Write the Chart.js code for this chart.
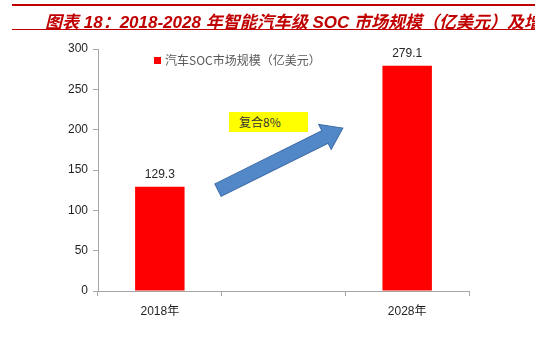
<!DOCTYPE html>
<html>
<head>
<meta charset="utf-8">
<script src="https://cdn.jsdelivr.net/npm/chart.js@4/dist/chart.umd.min.js"></script>
<style>
  body { margin: 0; background: #fff; }
  #wrap { position: relative; width: 535px; height: 358px; overflow: hidden; font-family: 'Liberation Sans', 'Noto Sans CJK SC', sans-serif; }
  #title { position: absolute; left: 12px; top: 4px; width: 523px; height: 23px; border-top: 2px solid #c00000; border-bottom: 1.5px solid #c00000; white-space: nowrap; overflow: hidden; }
  #title span { position: absolute; left: 33px; top: 2px; color: #c00000; font: italic bold 17px 'Liberation Sans', 'Noto Sans CJK SC', sans-serif; }
  #legend { position: absolute; left: 154px; top: 51px; font-size: 12px; color: #595959; font-family: 'Noto Sans CJK SC', sans-serif; }
  #legend i { display: inline-block; width: 7px; height: 7px; background: #ff0000; margin-right: 4px; vertical-align: 1px; }
  #cagr { position: absolute; left: 229px; top: 112px; width: 79px; height: 20px; background: #ffff00; font-size: 12px; color: #333; line-height: 20px; font-family: 'Noto Sans CJK SC', sans-serif; }
  #cagr span { padding-left: 10px; }
  canvas { position: absolute; left: 0; top: 0; }
</style>
</head>
<body>
<div id="wrap">
  <canvas id="c" width="535" height="358"></canvas>
  <div id="title"><span>图表 18：2018-2028 年智能汽车级 SOC 市场规模（亿美元）及增速</span></div>
  <div id="legend"><i></i>汽车SOC市场规模（亿美元）</div>
  <div id="cagr"><span>复合8%</span></div>
</div>
<script>
const categories = ['2018年', '', '2028年'];
const marketSize = [129.3, null, 279.1];
const yTicks = [0, 50, 100, 150, 200, 250, 300];
// arrow drawn in data space: [categoryIndex, value]
const arrowFrom = [0.47, 125];
const arrowTo = [1.48, 202];

const valueLabels = {
  id: 'valueLabels',
  afterDatasetsDraw(chart) {
    const ctx = chart.ctx;
    const meta = chart.getDatasetMeta(0);
    ctx.save();
    ctx.font = '12px "Liberation Sans", sans-serif';
    ctx.fillStyle = '#262626';
    ctx.textAlign = 'center';
    ctx.textBaseline = 'bottom';
    meta.data.forEach((bar, i) => {
      if (marketSize[i] == null) return;
      ctx.fillText(marketSize[i].toFixed(1), bar.x, bar.y - 6);
    });
    ctx.restore();
  }
};

const growthArrow = {
  id: 'growthArrow',
  afterDraw(chart) {
    const { x, y } = chart.scales;
    const x0 = x.getPixelForValue(arrowFrom[0]), y0 = y.getPixelForValue(arrowFrom[1]);
    const x1 = x.getPixelForValue(arrowTo[0]), y1 = y.getPixelForValue(arrowTo[1]);
    const ang = Math.atan2(y1 - y0, x1 - x0);
    const len = Math.hypot(x1 - x0, y1 - y0);
    const sw = 7, hw = 14, hl = 20;
    const ctx = chart.ctx;
    ctx.save();
    ctx.translate(x0, y0);
    ctx.rotate(ang);
    ctx.beginPath();
    ctx.moveTo(0, -sw);
    ctx.lineTo(len - hl, -sw);
    ctx.lineTo(len - hl, -hw);
    ctx.lineTo(len, 0);
    ctx.lineTo(len - hl, hw);
    ctx.lineTo(len - hl, sw);
    ctx.lineTo(0, sw);
    ctx.closePath();
    ctx.fillStyle = '#5288c8';
    ctx.fill();
    ctx.strokeStyle = '#3e6da6';
    ctx.lineWidth = 1;
    ctx.stroke();
    ctx.restore();
  }
};

new Chart(document.getElementById('c').getContext('2d'), {
  type: 'bar',
  data: {
    labels: categories,
    datasets: [{
      label: '汽车SOC市场规模（亿美元）',
      data: marketSize,
      backgroundColor: '#ff0000',
      borderWidth: 0,
      categoryPercentage: 1,
      barPercentage: 0.4
    }]
  },
  options: {
    responsive: false,
    animation: false,
    layout: { padding: { left: 0, right: 66, top: 49, bottom: 0 } },
    plugins: {
      legend: { display: false },
      tooltip: { enabled: false }
    },
    scales: {
      x: {
        offset: true,
        afterFit: (s) => { s.height = 67; },
        grid: {
          offset: true,
          drawOnChartArea: false,
          tickLength: 5,
          color: '#a6a6a6',
          lineWidth: 1
        },
        border: { color: '#a6a6a6' },
        ticks: {
          padding: 8,
          color: '#1f1f1f',
          font: { size: 12, family: "'Liberation Sans', 'Noto Sans CJK SC', sans-serif" }
        }
      },
      y: {
        min: 0,
        max: 300,
        afterFit: (s) => { s.width = 98; },
        afterBuildTicks: (s) => { s.ticks = yTicks.map(v => ({ value: v })); },
        grid: {
          drawOnChartArea: false,
          tickLength: 5,
          color: '#a6a6a6'
        },
        border: { color: '#a6a6a6' },
        ticks: {
          padding: 5,
          color: '#1f1f1f',
          font: { size: 12, family: "'Liberation Sans', sans-serif" }
        }
      }
    }
  },
  plugins: [valueLabels, growthArrow]
});
</script>
</body>
</html>
